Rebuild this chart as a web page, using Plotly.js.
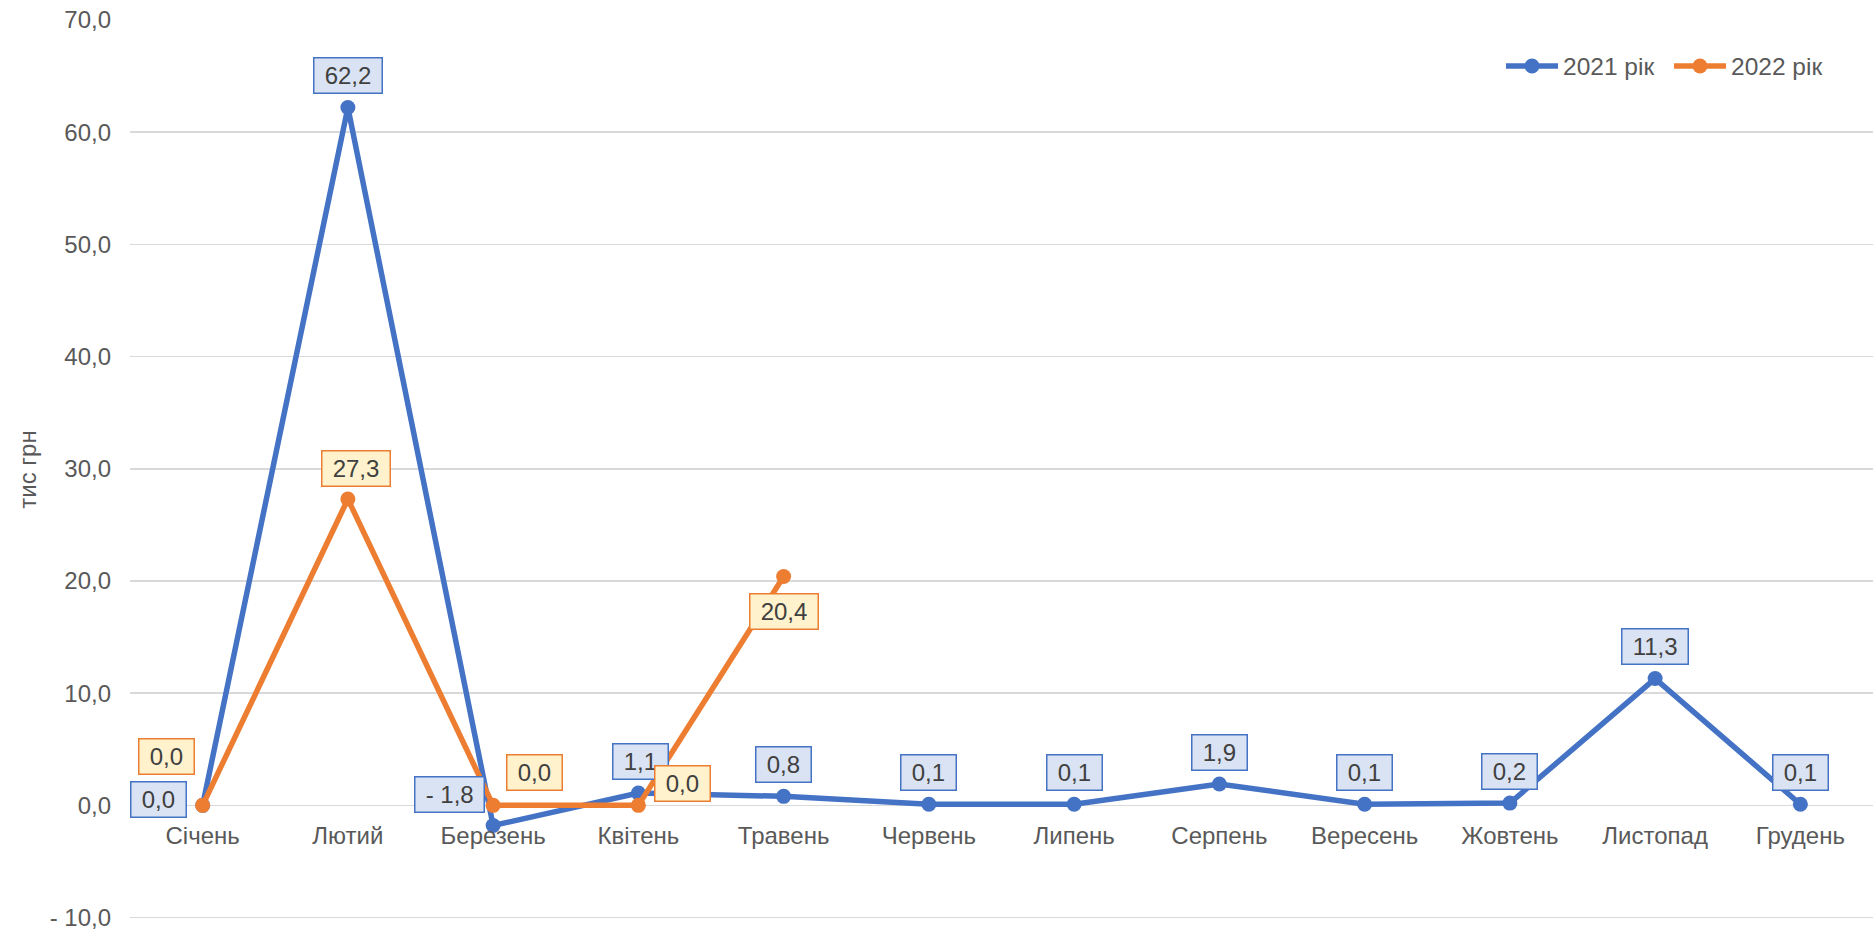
<!DOCTYPE html>
<html>
<head>
<meta charset="utf-8">
<script src="https://cdn.plot.ly/plotly-3.0.1.min.js"></script>
<style>
  html, body { margin: 0; padding: 0; background: #ffffff; }
  #chart { width: 1876px; height: 932px; }
</style>
</head>
<body>
<div id="chart"></div>
<script>
// ---- data ----
const months = ['Січень', 'Лютий', 'Березень', 'Квітень', 'Травень', 'Червень',
                'Липень', 'Серпень', 'Вересень', 'Жовтень', 'Листопад', 'Грудень'];
const series2021Name = '2021 рік';
const series2022Name = '2022 рік';
const values2021 = [0.0, 62.2, -1.8, 1.1, 0.8, 0.1, 0.1, 1.9, 0.1, 0.2, 11.3, 0.1];
const values2022 = [0.0, 27.3, 0.0, 0.0, 20.4];
const yTickValues = [-10, 0, 10, 20, 30, 40, 50, 60, 70];
const yAxisTitle = 'тис грн';

// ---- label placement (pixel shifts, style only) ----
const shift2021 = [[-44, 6], [0, 32], [-44, 31], [2, 32], [0, 32], [0, 32],
                   [0, 32], [0, 32], [0, 32], [0, 32], [0, 32], [0, 32]];
const shift2022 = [[-36, 49], [8, 31], [41, 33], [44, 22], [0, -35]];

function fmt(v) {
  const s = Math.abs(v).toFixed(1).replace('.', ',');
  return v < 0 ? '- ' + s : s;
}

const FONT = '"Liberation Sans", Arial, sans-serif';
const BLUE = '#4472C4', ORANGE = '#ED7D31';
const W = 1876, H = 932;
const M = {l: 130, r: 3, t: 20, b: 13};
const PW = W - M.l - M.r, PH = H - M.t - M.b;
const YMIN = -10.13, YMAX = 70;
const px = x => (x - M.l) / PW;          // pixel -> paper x
const py = y => (H - M.b - y) / PH;      // pixel -> paper y

const traces = [
  {
    x: months.slice(0, values2021.length), y: values2021, name: series2021Name,
    type: 'scatter', mode: 'lines+markers',
    line: {color: BLUE, width: 5.5}, marker: {color: BLUE, size: 15},
    hoverinfo: 'skip', cliponaxis: false, showlegend: false
  },
  {
    x: months.slice(0, values2022.length), y: values2022, name: series2022Name,
    type: 'scatter', mode: 'lines+markers',
    line: {color: ORANGE, width: 5.5}, marker: {color: ORANGE, size: 15},
    hoverinfo: 'skip', cliponaxis: false, showlegend: false
  }
];

const annotations = [];
function addLabels(vals, shifts, fill, border) {
  vals.forEach((v, i) => {
    annotations.push({
      x: months[i], y: v, xref: 'x', yref: 'y',
      text: '\u00a0' + fmt(v) + '\u00a0',
      showarrow: false,
      xshift: shifts[i][0], yshift: shifts[i][1],
      font: {family: FONT, size: 24, color: '#404040'},
      bgcolor: fill, bordercolor: border, borderwidth: 1.5, borderpad: 3.5
    });
  });
}
addLabels(values2021, shift2021, '#DAE3F3', BLUE);
addLabels(values2022, shift2022, '#FFF2CC', ORANGE);

// ---- custom legend (lines with markers + text) ----
const shapes = [];
const legendItems = [
  {name: series2021Name, color: BLUE, x0: 1504},
  {name: series2022Name, color: ORANGE, x0: 1672}
];
const LY = 66;
legendItems.forEach(it => {
  shapes.push({
    type: 'line', xref: 'paper', yref: 'paper',
    x0: px(it.x0 + 2), x1: px(it.x0 + 54), y0: py(LY), y1: py(LY),
    line: {color: it.color, width: 5.5}
  });
  shapes.push({
    type: 'circle', xref: 'paper', yref: 'paper',
    x0: px(it.x0 + 28 - 7.5), x1: px(it.x0 + 28 + 7.5),
    y0: py(LY + 7.5), y1: py(LY - 7.5),
    fillcolor: it.color, line: {width: 0}
  });
  annotations.push({
    xref: 'paper', yref: 'paper', x: px(it.x0 + 57), y: py(LY),
    xanchor: 'left', yanchor: 'middle', showarrow: false,
    text: it.name, font: {family: FONT, size: 24.5, color: '#595959'}
  });
});

const layout = {
  width: W, height: H,
  margin: {l: M.l, r: M.r, t: M.t, b: M.b, pad: 0},
  paper_bgcolor: '#ffffff', plot_bgcolor: '#ffffff',
  font: {family: FONT, size: 23, color: '#595959'},
  showlegend: false,
  xaxis: {
    type: 'category', categoryorder: 'array', categoryarray: months,
    range: [-0.5, 11.5], anchor: 'free', position: (0 - YMIN) / (YMAX - YMIN),
    showgrid: false, showline: false, zeroline: false, ticks: '',
    ticklabelstandoff: 14,
    tickfont: {family: FONT, size: 24, color: '#595959'},
    fixedrange: true
  },
  yaxis: {
    range: [YMIN, YMAX], tickvals: yTickValues,
    ticktext: yTickValues.map(v => fmt(v)),
    showgrid: true, gridcolor: '#D9D9D9', gridwidth: 1.5,
    zeroline: false, showline: false, ticks: '',
    ticklabelstandoff: 18,
    tickfont: {family: FONT, size: 24, color: '#595959'},
    title: {text: yAxisTitle, font: {family: FONT, size: 24, color: '#595959'}, standoff: 6},
    fixedrange: true
  },
  shapes: shapes,
  annotations: annotations
};

Plotly.newPlot('chart', traces, layout, {displayModeBar: false, staticPlot: true});
</script>
</body>
</html>
